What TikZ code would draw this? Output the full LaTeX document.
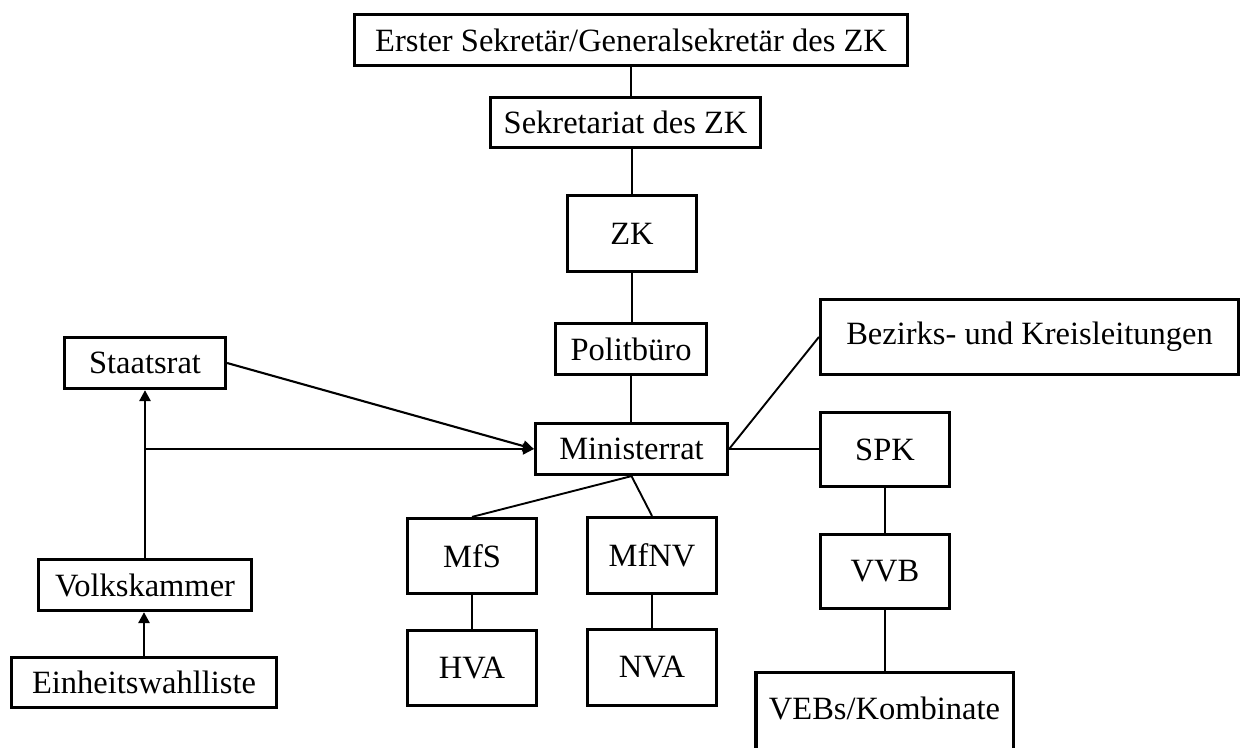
\documentclass[tikz,border=0pt]{standalone}
\usepackage{fontspec}
\setmainfont{Liberation Serif}
\usepackage{tikz}
\usetikzlibrary{arrows.meta,positioning,calc}

\begin{document}
\begin{tikzpicture}[
  x=1pt, y=-1pt,
  box/.style={draw=black, line width=3.2pt, inner sep=0pt, align=center, font=\fontsize{32.5}{39}\selectfont},
  link/.style={line width=1.9pt, draw=black},
  arrow/.style={-{Triangle[length=11pt,width=11pt]}, line width=2.6pt, draw=black}
]
\useasboundingbox (0,0) rectangle (1241,747);

% Partei
\node[box, minimum width=553pt, minimum height=51pt] (erster) at (631,40) {Erster Sekretär/Generalsekretär des ZK};
\node[box, minimum width=270pt, minimum height=50pt] (sekretariat) at (625.5,122.5) {Sekretariat des ZK};
\node[box, minimum width=129pt, minimum height=76pt] (zk) at (632,233.5) {ZK};
\node[box, minimum width=151pt, minimum height=51pt] (politbuero) at (631,349) {Politbüro};
\node[box, minimum width=192pt, minimum height=51pt] (ministerrat) at (631.5,449) {Ministerrat};
\node[box, minimum width=418pt, minimum height=75pt] (bezirke) at (1029.5,337) {Bezirks- und Kreisleitungen};

% Wirtschaft
\node[box, minimum width=129pt, minimum height=74pt] (spk) at (885,449.5) {SPK};
\node[box, minimum width=129pt, minimum height=74pt] (vvb) at (885,571.5) {VVB};
\node[box, draw=none, text depth=6pt, minimum width=254pt, minimum height=74pt] (vebs) at (884.5,711) {VEBs/Kombinate};
\draw[line width=3.2pt] (vebs.south west) -- (vebs.north west) -- (vebs.north east) -- (vebs.south east);

% Ministerien
\node[box, minimum width=129pt, minimum height=75pt] (mfs) at (472,556) {MfS};
\node[box, minimum width=129pt, minimum height=75pt] (hva) at (472,668) {HVA};
\node[box, minimum width=129pt, minimum height=76pt] (mfnv) at (652,555.5) {MfNV};
\node[box, minimum width=129pt, minimum height=76pt] (nva) at (652,667.5) {NVA};

% Staat
\node[box, minimum width=161pt, minimum height=51pt] (staatsrat) at (145,363) {Staatsrat};
\node[box, minimum width=213pt, minimum height=51pt] (volkskammer) at (145,585) {Volkskammer};
\node[box, minimum width=265pt, minimum height=50pt] (einheitsliste) at (144,682.5) {Einheitswahlliste};
\coordinate (abzweig) at (volkskammer.north |- ministerrat.west);

\draw[link] (erster.south) -- (erster.south |- sekretariat.north);
\draw[link] (zk.north |- sekretariat.south) -- (zk.north);
\draw[link] (zk.south) -- (zk.south |- politbuero.north);
\draw[link] (politbuero.south) -- (politbuero.south |- ministerrat.north);
\draw[link] (ministerrat.south) -- (mfs.north);
\draw[link] (ministerrat.south) -- (mfnv.north);
\draw[link] (mfs) -- (hva);
\draw[link] (mfnv) -- (nva);
\draw[link] (ministerrat.east) -- (bezirke.west);
\draw[link] (ministerrat.east) -- (ministerrat.east -| spk.west);
\draw[link] (spk) -- (vvb);
\draw[link] (vvb.south) -- (vvb.south |- vebs.north);
\draw[arrow] (einheitsliste.north) -- (einheitsliste.north |- volkskammer.south);
\draw[arrow] (volkskammer.north) -- (volkskammer.north |- staatsrat.south);
\draw[arrow, line width=1.9pt] (abzweig) -- (ministerrat.west);
\draw[arrow, line width=2.1pt] (staatsrat.east) -- (ministerrat.west);
\end{tikzpicture}
\end{document}
